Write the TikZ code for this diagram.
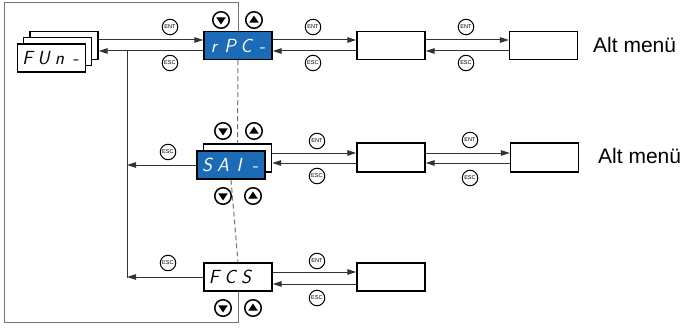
\documentclass[tikz,border=0pt]{standalone}
\usepackage{fontspec}
\setmainfont{Liberation Sans}
\usetikzlibrary{arrows.meta,calc}
\definecolor{dispblue}{HTML}{1B6BB7}
\newcommand{\segtxt}[4]{\makebox[16pt]{#1}\makebox[16pt]{#2}\makebox[16pt]{#3}\makebox[16pt]{#4}}
\begin{document}
\begin{tikzpicture}[x=1pt,y=-1pt,
  disp/.style={draw=black, line width=1.3pt, fill=white, minimum width=68pt, minimum height=28pt, inner sep=0pt, font=\fontsize{19}{19}\sffamily\slshape},
  dispb/.style={disp, fill=dispblue, text=white},
  subbox/.style={draw=black, line width=1.3pt, fill=white, minimum width=68pt, minimum height=28pt, inner sep=0pt},
  keybtn/.style={shape=circle, draw=black, line width=1pt, minimum size=15.5pt, inner sep=0pt, font=\fontsize{5.6}{5.6}\selectfont},
  btndn/.style={circle, draw=black, line width=1.5pt, minimum size=16.5pt, inner sep=0pt,
    path picture={\fill ($(path picture bounding box.center)+(-4.8,-2.7)$) -- ($(path picture bounding box.center)+(4.8,-2.7)$) -- ($(path picture bounding box.center)+(0,4.4)$) -- cycle;}},
  btnup/.style={circle, draw=black, line width=1.5pt, minimum size=16.5pt, inner sep=0pt,
    path picture={\fill ($(path picture bounding box.center)+(-4.8,2.7)$) -- ($(path picture bounding box.center)+(4.8,2.7)$) -- ($(path picture bounding box.center)+(0,-4.4)$) -- cycle;}},
  conn/.style={line width=1pt, draw=black!80},
  arr/.style={conn, -{Triangle[length=9pt,width=5.5pt]}},
  frame/.style={line width=1pt, draw=black!55},
  alt/.style={anchor=west, inner sep=0pt, font=\fontsize{21}{21}\selectfont}]
\useasboundingbox (0,0) rectangle (687,329);

% row coordinates
\coordinate (e1) at (0,40);
\coordinate (s1) at (0,51);
\coordinate (e2) at (0,153);
\coordinate (s2) at (0,163);
\coordinate (e3) at (0,272);
\coordinate (s3) at (0,284);
\coordinate (ftop) at (0,3);
\coordinate (fbot) at (0,322);
\coordinate (fl) at (4,0);
\coordinate (vt) at (127,51);
\coordinate (vb) at (127,278);

% FUn stacked
\node[disp] (fun3) at (64,45.5) {};
\node[disp] (fun2) at (57.75,51.75) {};
\node[disp] (fun1) at (51.5,58) {\segtxt{F}{U}{n}{-}};

% displays
\node[dispb] (rpc) at (238,45.5) {\segtxt{r}{P}{C}{-}};
\node[disp] (saib) at (237.5,158) {};
\node[dispb] (sai) at (231,165) {\segtxt{S}{A}{I}{-}};
\node[disp] (fcs) at (238,277) {\segtxt{F}{C}{S}{}};

% sub boxes
\node[subbox] (r1a) at (391,45.5) {};
\node[subbox] (r1b) at (543.5,45.5) {};
\node[subbox, minimum height=29pt] (r2a) at (391,157.5) {};
\node[subbox, minimum height=29pt] (r2b) at (544.5,157.5) {};
\node[subbox] (r3a) at (391,277) {};

\node[alt] (alt1) at (593,45) {Alt menü};
\node[alt] (alt2) at (598,156) {Alt menü};

% frame
\draw[frame] (rpc.north) -- (rpc.north |- ftop) -- (fl |- ftop) -- (fl |- fbot) -- (fcs.south |- fbot) -- (fcs.south);
\draw[frame, dash pattern=on 5pt off 3pt] (rpc.south) -- (saib.north);
\draw[frame, dash pattern=on 5pt off 3pt] (sai.south) -- (fcs.north);

% row 1
\draw[arr] (fun3.east |- e1) -- (rpc.west |- e1);
\draw[arr] (rpc.west |- s1) -- (fun3.east |- s1);
\draw[arr] (rpc.east |- e1) -- (r1a.west |- e1);
\draw[arr] (r1a.west |- s1) -- (rpc.east |- s1);
\draw[arr] (r1a.east |- e1) -- (r1b.west |- e1);
\draw[arr] (r1b.west |- s1) -- (r1a.east |- s1);

% left vertical
\draw[conn] (vt) -- (vb);
\draw[arr] (sai.west) -- (sai.west -| vt);
\draw[arr] (fcs.west) -- (fcs.west -| vt);

% row 2
\draw[arr] (saib.east |- e2) -- (r2a.west |- e2);
\draw[arr] (r2a.west |- s2) -- (saib.east |- s2);
\draw[arr] (r2a.east |- e2) -- (r2b.west |- e2);
\draw[arr] (r2b.west |- s2) -- (r2a.east |- s2);

% row 3
\draw[arr] (fcs.east |- e3) -- (r3a.west |- e3);
\draw[arr] (r3a.west |- s3) -- (fcs.east |- s3);

% keys
\node[keybtn] (k1) at (170,27) {ENT};
\node[keybtn] (k2) at (170,63) {ESC};
\node[keybtn] (k3) at (313,27) {ENT};
\node[keybtn] (k4) at (313,63) {ESC};
\node[keybtn] (k5) at (466,27) {ENT};
\node[keybtn] (k6) at (466,63) {ESC};
\node[keybtn] (k7) at (168,152) {ESC};
\node[keybtn] (k8) at (317,141) {ENT};
\node[keybtn] (k9) at (317,176) {ESC};
\node[keybtn] (k10) at (470,140) {ENT};
\node[keybtn] (k11) at (470,178) {ESC};
\node[keybtn] (k12) at (168,263) {ESC};
\node[keybtn] (k13) at (317,261) {ENT};
\node[keybtn] (k14) at (317,298) {ESC};

% buttons
\node[btndn] (b1) at (221,20) {};
\node[btnup] (b2) at (254,20) {};
\node[btndn] (b3) at (223,131) {};
\node[btnup] (b4) at (254,131) {};
\node[btndn] (b5) at (223,196) {};
\node[btnup] (b6) at (253,196) {};
\node[btndn] (b7) at (223,308) {};
\node[btnup] (b8) at (253,308) {};
\end{tikzpicture}
\end{document}
